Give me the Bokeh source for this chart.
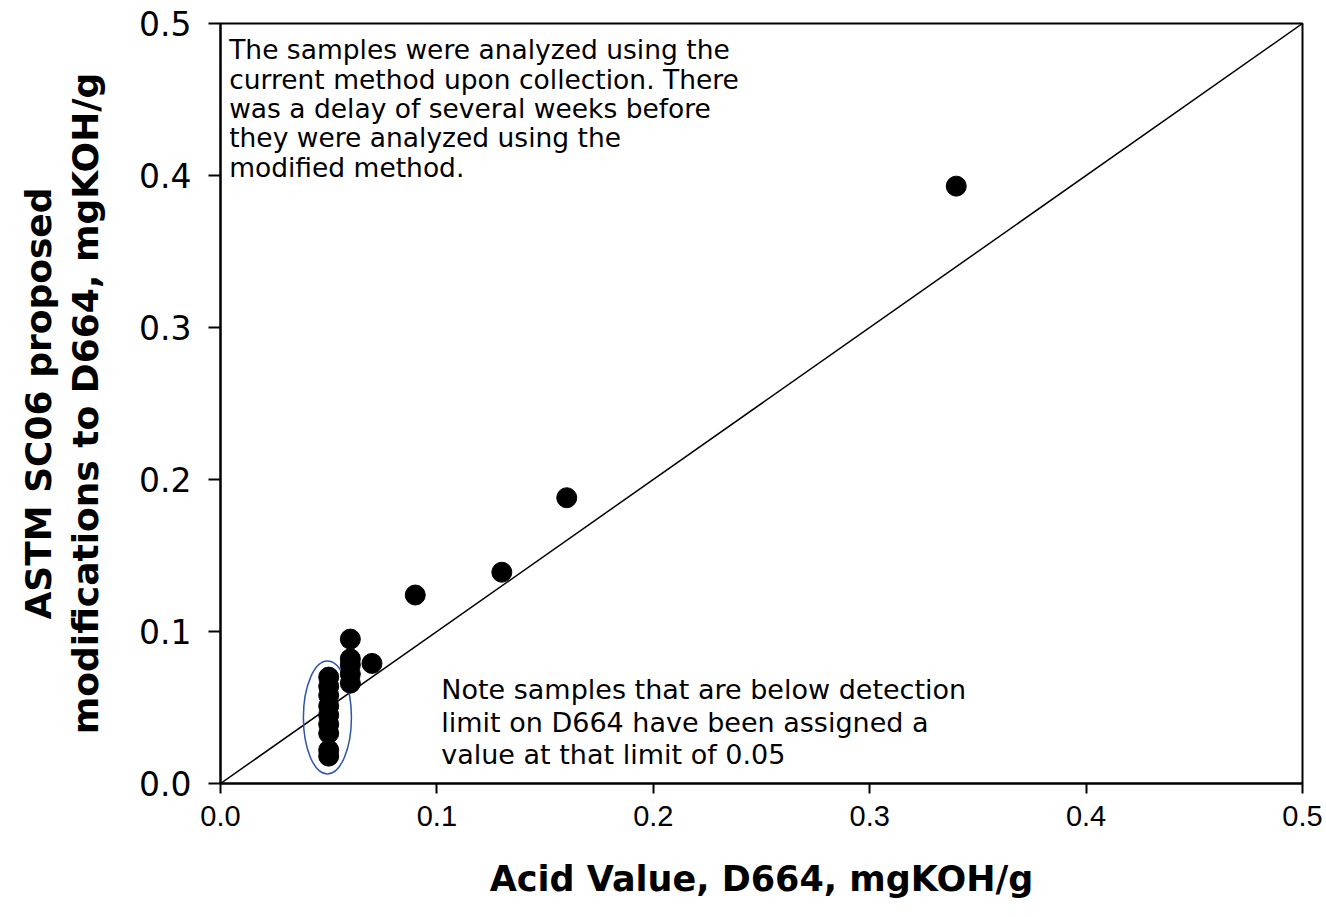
from bokeh.plotting import figure
from bokeh.models import Label, Range1d, FixedTicker, CustomJSTickFormatter
from bokeh.embed import file_html
from bokeh.resources import INLINE

# Data
d664 = [0.34, 0.16, 0.13, 0.09, 0.07,
        0.06, 0.06, 0.06, 0.06, 0.06,
        0.05, 0.05, 0.05, 0.05, 0.05, 0.05, 0.05, 0.05, 0.05]
modified = [0.393, 0.188, 0.139, 0.124, 0.079,
            0.095, 0.082, 0.078, 0.072, 0.066,
            0.070, 0.064, 0.058, 0.051, 0.045, 0.039, 0.033, 0.022, 0.018]
line_x = [0.0, 0.5]
line_y = [0.0, 0.5]
ticks = [0.0, 0.1, 0.2, 0.3, 0.4, 0.5]

note1 = ("The samples were analyzed using the\n"
         "current method upon collection. There\n"
         "was a delay of several weeks before\n"
         "they were analyzed using the\n"
         "modified method.")
note2 = ("Note samples that are below detection\n"
         "limit on D664 have been assigned a\n"
         "value at that limit of 0.05")

p = figure(width=1326, height=917, output_backend="svg", toolbar_location=None,
           x_range=Range1d(0, 0.5), y_range=Range1d(0, 0.5),
           frame_width=1082, frame_height=760,
           min_border_left=220, min_border_right=24, min_border_top=23, min_border_bottom=134)
p.background_fill_color = "white"
p.border_fill_color = "white"
p.grid.visible = False
p.outline_line_color = "black"
p.outline_line_width = 2

for ax in (p.xaxis[0], p.yaxis[0]):
    ax.ticker = FixedTicker(ticks=ticks)
    ax.formatter = CustomJSTickFormatter(code="return tick.toFixed(1);")
    ax.minor_tick_line_color = None
    ax.major_tick_in = 0
    ax.axis_line_color = "black"
    ax.axis_line_width = 2
    ax.major_tick_line_color = "black"
    ax.major_tick_line_width = 2
    ax.major_label_text_color = "black"
    ax.axis_label_text_color = "black"
    ax.axis_label_text_font_style = "bold"

p.xaxis.major_tick_out = 10
p.xaxis.major_label_text_font = "Liberation Sans"
p.xaxis.major_label_text_font_size = "29px"
p.xaxis.major_label_standoff = 12
p.xaxis.axis_label = "Acid Value, D664, mgKOH/g"
p.xaxis.axis_label_text_font = "DejaVu Sans"
p.xaxis.axis_label_text_font_size = "35px"
p.xaxis.axis_label_standoff = 30

p.yaxis.major_tick_out = 12
p.yaxis.major_label_text_font = "DejaVu Sans"
p.yaxis.major_label_text_font_size = "33px"
p.yaxis.major_label_standoff = 17
p.yaxis.axis_label = "ASTM SC06 proposed\nmodifications to D664, mgKOH/g"
p.yaxis.axis_label_text_font = "DejaVu Sans"
p.yaxis.axis_label_text_font_size = "36px"
p.yaxis.axis_label_text_line_height = 1.15
p.yaxis.axis_label_standoff = 30

p.line(line_x, line_y, line_color="black", line_width=1.5)
p.ellipse(x=[0.0494], y=[0.0434], width=[0.0222], height=[0.0743],
          fill_color=None, line_color="#2f55a8", line_width=1.5)
p.scatter(d664, modified, size=20, fill_color="black", line_color="black")

p.add_layout(Label(x=0.004, y=0.493, text=note1, text_baseline="top",
                   text_font="DejaVu Sans", text_font_size="26.5px",
                   text_color="black", text_line_height=0.95))
p.add_layout(Label(x=0.102, y=0.072, text=note2, text_baseline="top",
                   text_font="DejaVu Sans", text_font_size="27px",
                   text_color="black", text_line_height=1.05))

open("out.html", "w").write(file_html(p, INLINE))
